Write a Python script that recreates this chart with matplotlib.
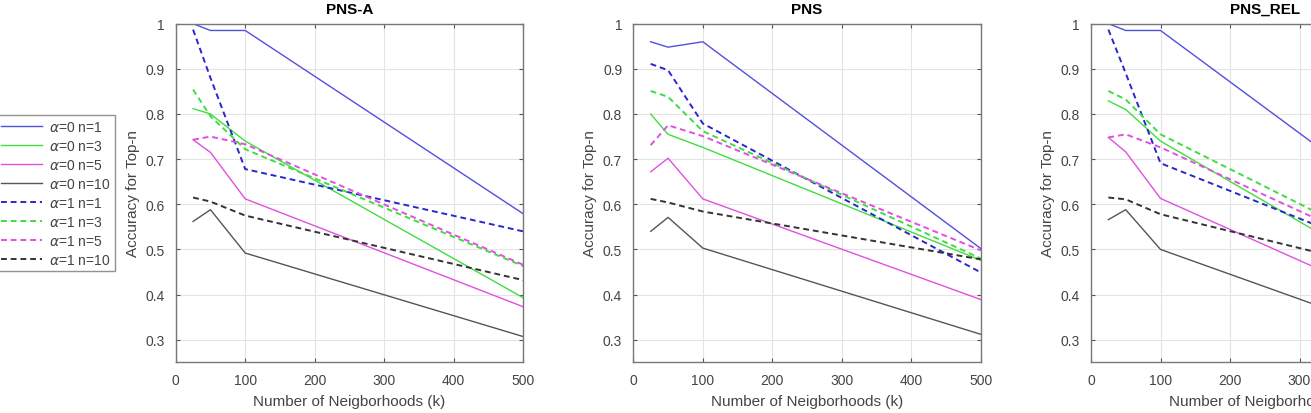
import numpy as np
import matplotlib
matplotlib.use('Agg')
import matplotlib.pyplot as plt

plt.rcParams['font.family'] = ['Liberation Sans', 'DejaVu Sans']

# neighbourhood sizes (k)
k_vals = [25, 50, 100, 500]

titles = ['PNS-A', 'PNS', 'PNS_REL']

# accuracy for top-n, one list per panel: a0 -> alpha=0, a1 -> alpha=1
pnsa_a0_n1 = [1.000, 0.985, 0.985, 0.579]
pnsa_a0_n3 = [0.812, 0.800, 0.740, 0.393]
pnsa_a0_n5 = [0.743, 0.715, 0.612, 0.373]
pnsa_a0_n10 = [0.562, 0.588, 0.492, 0.307]
pnsa_a1_n1 = [0.987, 0.880, 0.678, 0.540]
pnsa_a1_n3 = [0.854, 0.795, 0.722, 0.463]
pnsa_a1_n5 = [0.743, 0.750, 0.733, 0.466]
pnsa_a1_n10 = [0.615, 0.606, 0.575, 0.432]

pns_a0_n1 = [0.960, 0.948, 0.960, 0.502]
pns_a0_n3 = [0.800, 0.755, 0.726, 0.476]
pns_a0_n5 = [0.672, 0.702, 0.612, 0.389]
pns_a0_n10 = [0.540, 0.571, 0.503, 0.312]
pns_a1_n1 = [0.911, 0.897, 0.779, 0.449]
pns_a1_n3 = [0.851, 0.838, 0.762, 0.480]
pns_a1_n5 = [0.731, 0.775, 0.751, 0.498]
pns_a1_n10 = [0.612, 0.604, 0.584, 0.478]

rel_a0_n1 = [1.000, 0.985, 0.985, 0.530]
rel_a0_n3 = [0.829, 0.810, 0.740, 0.383]
rel_a0_n5 = [0.748, 0.716, 0.613, 0.338]
rel_a0_n10 = [0.566, 0.588, 0.500, 0.280]
rel_a1_n1 = [0.987, 0.890, 0.691, 0.446]
rel_a1_n3 = [0.851, 0.832, 0.755, 0.447]
rel_a1_n5 = [0.748, 0.755, 0.726, 0.444]
rel_a1_n10 = [0.615, 0.611, 0.578, 0.428]

panels = [
    [pnsa_a0_n1, pnsa_a0_n3, pnsa_a0_n5, pnsa_a0_n10, pnsa_a1_n1, pnsa_a1_n3, pnsa_a1_n5, pnsa_a1_n10],
    [pns_a0_n1, pns_a0_n3, pns_a0_n5, pns_a0_n10, pns_a1_n1, pns_a1_n3, pns_a1_n5, pns_a1_n10],
    [rel_a0_n1, rel_a0_n3, rel_a0_n5, rel_a0_n10, rel_a1_n1, rel_a1_n3, rel_a1_n5, rel_a1_n10],
]

labels = [r'$\alpha$=0 n=1', r'$\alpha$=0 n=3', r'$\alpha$=0 n=5', r'$\alpha$=0 n=10',
          r'$\alpha$=1 n=1', r'$\alpha$=1 n=3', r'$\alpha$=1 n=5', r'$\alpha$=1 n=10']
colors = ['#5050e0', '#40dd40', '#e050e0', '#555555',
          '#2828cc', '#40dd40', '#e050e0', '#333333']
styles = ['-'] * 4 + ['--'] * 4

W, H = 1311, 414
fig = plt.figure(figsize=(W / 100, H / 100), dpi=100)

lefts = [175.7, 633.3, 1091.0]
ax_w = 347.5
ax_top, ax_bot = 24.7, 363.3

axes = []
for i, left in enumerate(lefts):
    ax = fig.add_axes([left / W, 1 - ax_bot / H, ax_w / W, (ax_bot - ax_top) / H])
    for y, c, ls, lab in zip(panels[i], colors, styles, labels):
        ax.plot(k_vals, y, color=c, linestyle=ls, lw=1.0 if ls == '-' else 1.4,
                dashes=(3, 2) if ls == '--' else (None, None), label=lab)
    ax.set_xlim(0, 500)
    ax.set_ylim(0.25, 1)
    ax.set_xticks([0, 100, 200, 300, 400, 500])
    ax.set_yticks([0.3, 0.4, 0.5, 0.6, 0.7, 0.8, 0.9, 1])
    ax.set_yticklabels(['0.3', '0.4', '0.5', '0.6', '0.7', '0.8', '0.9', '1'])
    ax.grid(True, color='#e4e4e4', lw=0.8)
    ax.set_axisbelow(True)
    ax.tick_params(direction='in', top=True, right=True, length=3, width=0.8,
                   color='#555555', labelcolor='#444444', labelsize=10, pad=8)
    for sp in ax.spines.values():
        sp.set_color('#777777')
        sp.set_linewidth(1.0)
    ax.set_title(titles[i], fontsize=11, fontweight='bold', pad=8)
    ax.set_xlabel('Number of Neigborhoods (k)', fontsize=11, color='#444444', labelpad=5)
    ax.set_ylabel('Accuracy for Top-n', fontsize=11, color='#444444', labelpad=4)
    axes.append(ax)

leg = fig.legend(*axes[0].get_legend_handles_labels(), loc='upper right',
                 bbox_to_anchor=(115 / W, 1 - 115.7 / H), bbox_transform=fig.transFigure,
                 fontsize=10, handlelength=3.0, handletextpad=0.45, labelspacing=0.36,
                 borderpad=0.35, borderaxespad=0, fancybox=False, frameon=True)
leg.get_frame().set_edgecolor('#777777')
leg.get_frame().set_linewidth(1.0)
for t in leg.get_texts():
    t.set_color('#444444')

fig.savefig('out.png', dpi=100)
